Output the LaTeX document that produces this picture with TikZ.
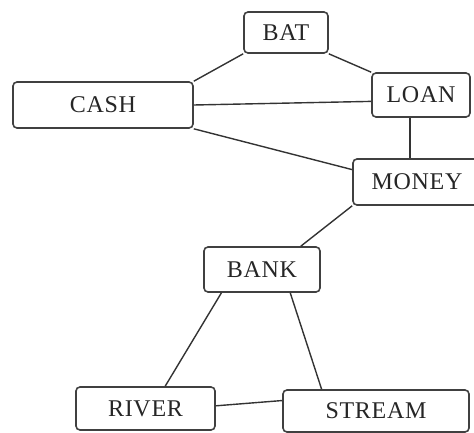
\documentclass[tikz,border=0pt]{standalone}
\usepackage{fontspec}
\setmainfont{Liberation Serif}[LetterSpace=3]
\usetikzlibrary{calc}

\tikzset{
  word/.style={draw=black!75, line width=1.6pt, rounded corners=4pt,
    inner sep=0pt, fill=white, text=black!85,
    font=\fontsize{24}{24}\selectfont},
  link/.style={draw=black!80, line width=1.4pt}
}

\begin{document}
\begin{tikzpicture}[x=1pt, y=-1pt]
  \useasboundingbox (0,0) rectangle (474,433);

  % word nodes
  \node[word, minimum width=84pt,  minimum height=41pt] (bat)    at (286,32.5)  {BAT};
  \node[word, minimum width=180pt, minimum height=46pt] (cash)   at (103,105)   {CASH};
  \node[word, minimum width=98pt,  minimum height=44pt] (loan)   at (421,95)    {LOAN};
  \node[word, minimum width=128pt, minimum height=46pt] (money)  at (417,182)   {MONEY};
  \node[word, minimum width=116pt, minimum height=45pt] (bank)   at (262,269.5) {BANK};
  \node[word, minimum width=139pt, minimum height=43pt] (river)  at (145.5,408.5) {RIVER};
  \node[word, minimum width=186pt, minimum height=42pt] (stream) at (376,411)   {STREAM};

  % associations
  \draw[link] (cash.north east) -- (bat.south west);
  \draw[link] (bat.south east) -- (loan.north west);
  \draw[link] (cash.east) -- ($(loan.north west)!0.64!(loan.south west)$);
  \draw[link] (cash.south east) -- ($(money.north west)!0.24!(money.south west)$);
  \draw[link] ($(loan.south west)!0.39!(loan.south east)$) coordinate (lm)
        -- (lm |- money.north);
  \draw[link] (money.south west) -- ($(bank.north west)!0.83!(bank.north east)$);
  \draw[link] ($(bank.south west)!0.155!(bank.south east)$)
        -- ($(river.north west)!0.64!(river.north east)$);
  \draw[link] ($(bank.south west)!0.74!(bank.south east)$)
        -- ($(stream.north west)!0.21!(stream.north east)$);
  \draw[link] ($(river.north east)!0.44!(river.south east)$)
        -- ($(stream.north west)!0.26!(stream.south west)$);
\end{tikzpicture}
\end{document}
